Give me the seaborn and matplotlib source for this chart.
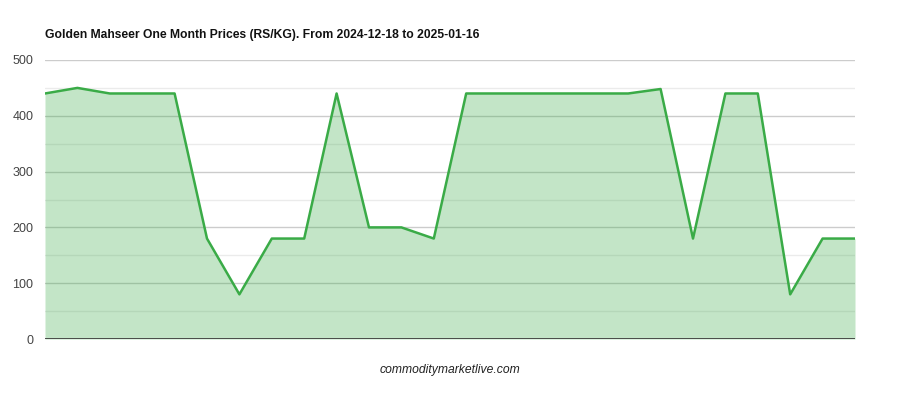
import matplotlib
matplotlib.use("Agg")
from matplotlib import pyplot as plt
import seaborn as sns
import pandas as pd

# Daily prices, 2024-12-18 .. 2025-01-16 (trading days)
days = list(range(26))
prices = [440, 450, 440, 440, 440, 180, 80, 180, 180, 440,
          200, 200, 180, 440, 440, 440, 440, 440, 440, 448,
          180, 440, 440, 80, 180, 180]
y_ticks = [0, 100, 200, 300, 400, 500]

title = "Golden Mahseer One Month Prices (RS/KG). From 2024-12-18 to 2025-01-16"
caption = "commoditymarketlive.com"

df = pd.DataFrame({"day": days, "price": prices})

sns.set_style("white")
plt.rcParams["font.family"] = ["Liberation Sans", "DejaVu Sans"]

fig = plt.figure(figsize=(9, 4), dpi=100)
ax = fig.add_axes([0.05, 0.1525, 0.90, 0.6975])

line_color = "#3aab47"

# minor grid at 50s, major at 100s
for v in range(50, 500, 100):
    ax.axhline(v, color="#ebebeb", linewidth=1, zorder=0)
for v in y_ticks[1:]:
    ax.axhline(v, color="#cccccc", linewidth=1, zorder=0)

# translucent fill so the grid shows through like the original
ax.fill_between(df.day, df.price, 0, color=line_color, alpha=0.3,
                zorder=1, linewidth=0)
sns.lineplot(data=df, x="day", y="price", ax=ax, color=line_color,
             linewidth=1.8, zorder=3)
ax.axhline(0, color="#333333", linewidth=1.2, zorder=4)

ax.set_xlim(0, 25)
ax.set_ylim(0, 500)
ax.set_yticks(y_ticks)
ax.set_yticklabels([str(t) for t in y_ticks], fontsize=9, color="#444444")
ax.set_xticks([])
ax.set_xlabel("")
ax.set_ylabel("")
ax.tick_params(axis="y", length=0, pad=8.5)
for s in ax.spines.values():
    s.set_visible(False)

fig.text(45 / 900, 1 - 35 / 400, title, fontsize=8.7, fontweight="bold",
         ha="left", va="center", color="#111111")
fig.text(0.5, 1 - 370 / 400, caption, fontsize=8.7, style="italic",
         ha="center", va="center", color="#222222")

fig.savefig("out.png", dpi=100)
